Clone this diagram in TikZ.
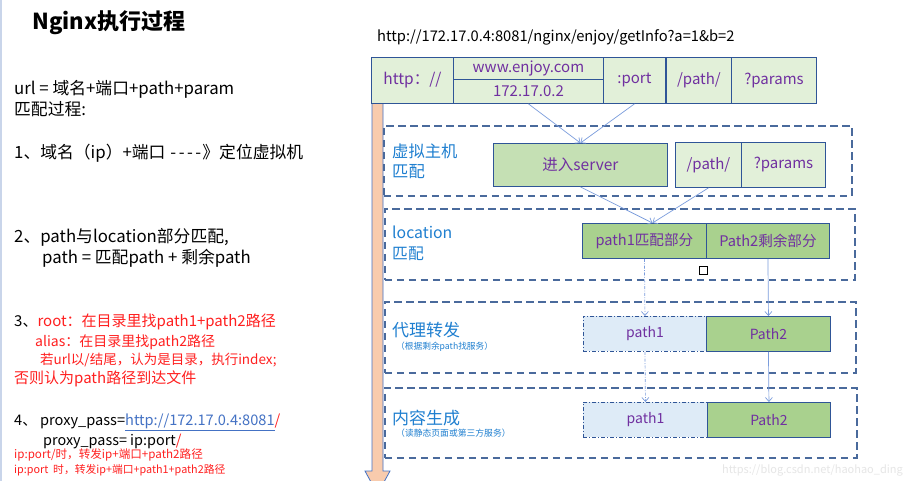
\documentclass[tikz,border=0pt]{standalone}
\usepackage{fontspec}
\setmainfont{Noto Sans CJK SC}
\usetikzlibrary{arrows.meta}
\definecolor{bd}{HTML}{2F5597}
\definecolor{zb}{HTML}{4A6A9C}
\definecolor{pur}{HTML}{7030A0}
\definecolor{lgreen}{HTML}{E2F0D9}
\definecolor{mgreen}{HTML}{C5E0B4}
\definecolor{dgreen}{HTML}{A9D18E}
\definecolor{lblueF}{HTML}{DEEBF7}
\definecolor{lblue}{HTML}{1F7FD0}
\definecolor{ab}{HTML}{7A9CDC}
\definecolor{orangeF}{HTML}{F8CBAD}
\definecolor{rd}{HTML}{FF2020}
\definecolor{lnk}{HTML}{4472C4}
\definecolor{edge}{HTML}{C9D5EA}
\definecolor{wm}{HTML}{E6E6E6}
\newcommand\fs[1]{\fontsize{#1}{#1}\selectfont}
\newcommand\hy{\makebox[8.3pt]{-}}
\tikzset{
  cell/.style={draw=bd, line width=0.9pt, inner sep=0pt, anchor=north west, text=pur},
  zone/.style={draw=zb, dash pattern=on 7.5pt off 4.5pt, line width=1.6pt, anchor=north west, inner sep=0pt},
  zlab/.style={text=lblue, anchor=west, align=left, inner sep=0pt},
  flow/.style={draw=ab, line width=0.7pt, -{Straight Barb[length=4pt,width=7pt]}},
  flowd/.style={flow, dash pattern=on 3pt off 1.5pt on 0.8pt off 1.5pt},
  ltext/.style={anchor=west, inner sep=0pt},
  dd/.style={dash pattern=on 4pt off 2pt on 1pt off 2pt},
}
\begin{document}
\begin{tikzpicture}[x=1pt,y=-1pt]
\useasboundingbox (0,0) rectangle (903,481);
\clip (0,0) rectangle (903,481);
\fill[white] (0,0) rectangle (903,481);
\draw[edge, line width=1.5pt] (0.75,0) -- (0.75,481);

% ---------- left text ----------
\node[ltext, font=\fs{22}\bfseries] (title) at (32,23) {Nginx执行过程};
\node[ltext, font=\fs{16.8}] (t1) at (14,89) {url = 域名+端口+path+param};
\node[ltext, font=\fs{16.8}] (t2) at (14,109) {匹配过程:};
\node[ltext, font=\fs{16.8}] (t3) at (14,153) {1、域名（ip）+端口 \hy\hy\hy\hy》定位虚拟机};
\node[ltext, font=\fs{16.8}] (t4) at (14,237) {2、path与location部分匹配,};
\node[ltext, font=\fs{16.8}] (t5) at (42,258) {path = 匹配path + 剩余path};
\node[ltext, font=\fs{15}] (t6) at (14,322) {3、\textcolor{rd}{root：在目录里找path1+path2路径}};
\node[ltext, font=\fs{14}, text=rd] (t7) at (35,342) {alias：在目录里找path2路径};
\node[ltext, font=\fs{13.5}, text=rd] (t8) at (40,360) {若url以/结尾，认为是目录，执行index;};
\node[ltext, font=\fs{15}, text=rd] (t9) at (14,379) {否则认为path路径到达文件};
\node[ltext, font=\fs{14.6}] (t10) at (14,422) {4、 proxy\_pass=\textcolor{lnk}{\underline{http://172.17.0.4:8081}}\textcolor{rd}{/}};
\node[ltext, font=\fs{14.4}] (t11) at (43,441) {proxy\_pass= ip:port\textcolor{rd}{/}};
\node[ltext, font=\fs{11.6}, text=rd] (t12) at (14,455) {ip:port/时，转发ip+端口+path2路径};
\node[ltext, font=\fs{10.8}, text=rd] (t13) at (14,470) {ip:port~~时，转发ip+端口+path1+path2路径};

% ---------- right ----------
\node[ltext, font=\fs{14.7}] (url) at (377,37) {http://172.17.0.4:8081/nginx/enjoy/getInfo?a=1\&b=2};

% orange timeline arrow
\filldraw[fill=orangeF, draw=lnk, line width=0.8pt]
  (372,100) -- (383,100) -- (383,471) -- (390,471) -- (377.5,494) -- (365,471) -- (372,471) -- cycle;

% dashed zones
\node[zone, minimum width=468pt, minimum height=70pt] (z1) at (383,125) {};
\node[zone, minimum width=470pt, minimum height=71pt] (z2) at (384,208) {};
\node[zone, minimum width=471pt, minimum height=71pt] (z3) at (384,301) {};
\node[zone, minimum width=472pt, minimum height=70pt] (z4) at (384,387) {};

% top row
\node[cell, fill=lgreen, minimum width=82pt, minimum height=46pt, font=\fs{15.5}] (http) at (371,57) {http：//};
\node[cell, fill=lgreen, minimum width=150pt, minimum height=22pt, font=\fs{15}] (www) at (453,57) {www.enjoy.com};
\node[cell, fill=lgreen, minimum width=150pt, minimum height=24pt, font=\fs{15}] (ip) at (453,79) {172.17.0.2};
\node[cell, fill=lgreen, minimum width=62pt, minimum height=46pt, font=\fs{15}] (port) at (603,57) {:port};
\node[cell, fill=lgreen, minimum width=65pt, minimum height=46pt, font=\fs{15}] (path) at (666,57) {/path/};
\node[cell, fill=lgreen, minimum width=85pt, minimum height=46pt, font=\fs{15}] (params) at (731,57) {?params};

% zone 1
\node[zlab, font={\fontsize{16.3}{20}\selectfont}] (l1) at (392,161) {虚拟主机\\匹配};
\node[cell, fill=mgreen, minimum width=174pt, minimum height=43pt, font=\fs{15.5}] (server) at (493,143) {进入server};
\node[cell, fill=lgreen, minimum width=66pt, minimum height=45pt, font=\fs{15}] (vpath) at (675,142) {/path/};
\node[cell, fill=lgreen, minimum width=84pt, minimum height=45pt, font=\fs{15}] (vparams) at (741,142) {?params};

% zone 2
\node[zlab, font={\fontsize{15.8}{21}\selectfont}] (l2) at (392,243.5) {location\\匹配};
\node[cell, fill=dgreen, minimum width=124pt, minimum height=35pt, font=\fs{14.6}] (p1) at (582,223) {path1匹配部分};
\node[cell, fill=dgreen, minimum width=123pt, minimum height=35pt, font=\fs{14.6}] (p2) at (706,223) {Path2剩余部分};
\node[draw=black, fill=white, line width=0.8pt, minimum size=8pt, inner sep=0pt] (sq) at (703,270) {};

% zone 3
\node[zlab, font=\fs{17}] (l3) at (392,330) {代理转发};
\node[zlab, font=\fs{8.7}] (l3s) at (396,347) {（根据剩余path找服务）};
\node[cell, dd, fill=lblueF, minimum width=123pt, minimum height=35pt, font=\fs{14}] (q1) at (583,316) {path1};
\node[cell, fill=dgreen, minimum width=124pt, minimum height=35pt, font=\fs{14}] (q2) at (706,316) {Path2};

% zone 4
\node[zlab, font=\fs{17}] (l4) at (392,418) {内容生成};
\node[zlab, font=\fs{8.8}] (l4s) at (396,433) {（读静态页面或第三方服务）};
\node[cell, dd, fill=lblueF, minimum width=124pt, minimum height=35pt, font=\fs{14}] (r1) at (583,402) {path1};
\node[cell, fill=dgreen, minimum width=123pt, minimum height=35pt, font=\fs{14}] (r2) at (707,402) {Path2};

% connectors
\draw[flow] (ip.south) -- (server.north);
\draw[flow] (port.south) -- (server.north);
\draw[flow] (server.south) -- ([xshift=8pt]p1.north);
\draw[flow] (vpath.south) -- ([xshift=8pt]p1.north);
\draw[flowd] (p1.south) -- (q1.north);
\draw[flow] (p2.south) -- (q2.north);
\draw[flowd] (q1.south) -- (r1.north);
\draw[flow] (q2.south) -- (r2.north);

% watermark
\node[anchor=east, inner sep=0pt, text=wm, font=\fs{11}] (wmk) at (903,470) {https://blog.csdn.net/haohao\_ding};
\end{tikzpicture}
\end{document}
